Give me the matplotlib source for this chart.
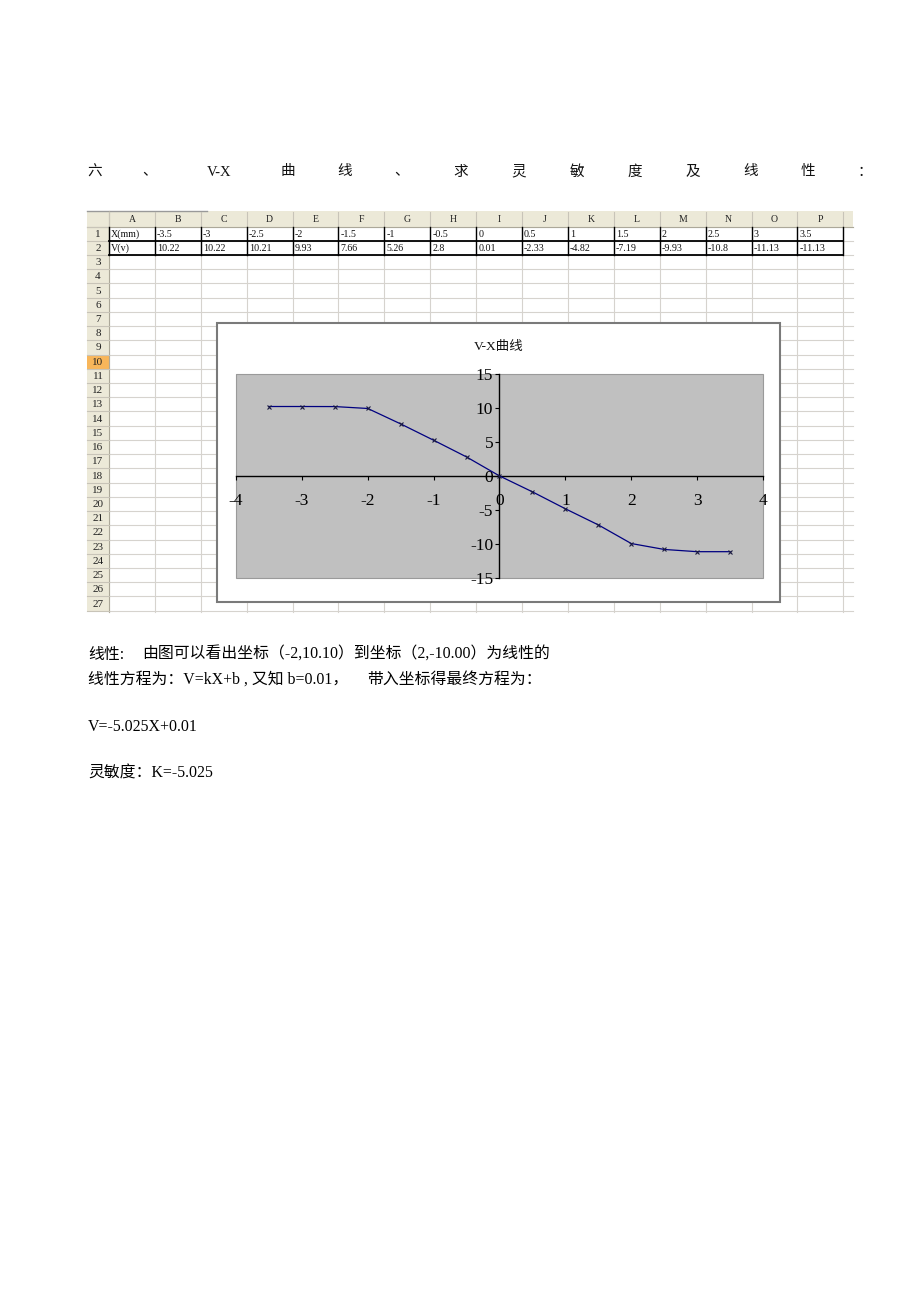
import matplotlib
matplotlib.use('Agg')
import matplotlib.pyplot as plt
from matplotlib.patches import Rectangle

# ---------------- data ----------------
x_mm = [-3.5, -3, -2.5, -2, -1.5, -1, -0.5, 0, 0.5, 1, 1.5, 2, 2.5, 3, 3.5]
v_volts = [10.22, 10.22, 10.21, 9.93, 7.66, 5.26, 2.8, 0.01, -2.33, -4.82,
           -7.19, -9.93, -10.8, -11.13, -11.13]
col_letters = list("ABCDEFGHIJKLMNOP")
row_names = ["X(mm)", "V(v)"]
x_ticks = [-4, -3, -2, -1, 0, 1, 2, 3, 4]
y_ticks = [-15, -10, -5, 0, 5, 10, 15]
chart_title = "V-X曲线"
heading_parts = ["六", "、", "V-X", "曲", "线", "、", "求", "灵", "敏", "度", "及", "线", "性", "："]
body_line1 = ["线性:", "由图可以看出坐标（-2,10.10）到坐标（2,-10.00）为线性的"]
body_line2 = ["线性方程为：V=kX+b , 又知 b=0.01，", "带入坐标得最终方程为："]
body_line3 = ["V=-5.025X+0.01"]
body_line4 = ["灵敏度：K=-5.025"]

# ---------------- layout ----------------
FONTS = ['Liberation Serif', 'Noto Sans CJK SC', 'DejaVu Sans']
plt.rcParams['font.family'] = FONTS

W, H = 920, 1302
fig = plt.figure(figsize=(W / 100, H / 100), dpi=100)
fig.patch.set_facecolor('white')
page = fig.add_axes([0, 0, 1, 1])
page.set_xlim(0, W)
page.set_ylim(H, 0)
page.axis('off')
page.set_zorder(0)

# heading line
heading_x = [95, 150, 219, 288, 345, 402, 461, 519, 577, 635, 693, 751, 808, 865]
for s, xx in zip(heading_parts, heading_x):
    page.text(xx, 172, s, ha='center', va='center', fontsize=10.5, color='#111111')

# spreadsheet geometry
SX0, A0, CW = 87, 109, 45.9
HT, R0, RH = 211, 226.5, 14.23
RIGHT, BOTTOM = 853, 612
NROWS = 27
grid_c = '#D6D3CE'

for n in range(NROWS + 1):
    y = R0 + n * RH
    page.plot([A0, RIGHT], [y, y], color=grid_c, lw=0.8, zorder=1)
for c in range(len(col_letters) + 1):
    x = A0 + c * CW
    page.plot([x, x], [R0, BOTTOM], color=grid_c, lw=0.8, zorder=1)

page.add_patch(Rectangle((SX0, HT), RIGHT - SX0, R0 - HT, facecolor='#ECE9D8',
                         edgecolor='none', zorder=2))
page.add_patch(Rectangle((SX0, R0), A0 - SX0, BOTTOM - R0, facecolor='#ECE9D8',
                         edgecolor='none', zorder=2))
page.add_patch(Rectangle((SX0, R0 + 9 * RH), A0 - SX0, RH, facecolor='#F8B65A',
                         edgecolor='none', zorder=2))
page.plot([SX0, 207], [HT, HT], color='#999999', lw=1.0, zorder=3)
page.plot([SX0, RIGHT], [R0, R0], color='#ACA899', lw=0.8, zorder=3)
page.plot([A0, A0], [HT, BOTTOM], color='#ACA899', lw=0.8, zorder=3)
for c in range(len(col_letters) + 1):
    x = A0 + c * CW
    page.plot([x, x], [HT + 1, R0], color='#C8C4B8', lw=0.8, zorder=3)
for n in range(NROWS + 1):
    y = R0 + n * RH
    page.plot([SX0, A0], [y, y], color='#C8C4B8', lw=0.8, zorder=3)
for i, L in enumerate(col_letters):
    page.text(A0 + (i + 0.5) * CW, (HT + R0) / 2 + 0.5, L, ha='center', va='center',
              fontsize=7, color='#222222', zorder=4)
for n in range(NROWS):
    page.text((SX0 + A0) / 2, R0 + (n + 0.5) * RH + 0.5, str(n + 1), ha='center',
              va='center', fontsize=8, color='#222222', zorder=4)

for r, (name, vals) in enumerate(zip(row_names, [x_mm, v_volts])):
    yc = R0 + (r + 0.5) * RH + 0.5
    page.text(A0 + 2, yc, name, ha='left', va='center', fontsize=7.2, color='#111111', zorder=4)
    for i, v in enumerate(vals):
        page.text(A0 + (i + 1) * CW + 2, yc, '{:g}'.format(v), ha='left', va='center',
                  fontsize=7.2, color='#111111', zorder=4)
TW = A0 + len(col_letters) * CW
for n in range(1, 3):
    y = R0 + n * RH
    page.plot([A0, TW], [y, y], color='black', lw=1.3, zorder=4)
for c in range(len(col_letters) + 1):
    x = A0 + c * CW
    page.plot([x, x], [R0, R0 + 2 * RH], color='black', lw=1.0, zorder=4)

# chart area box
page.add_patch(Rectangle((217, 323), 563, 279, facecolor='white', edgecolor='#7A7A7A',
                         lw=1.5, zorder=5))
page.text(499, 347, chart_title, ha='center', va='center', fontsize=9.7,
          color='#111111', zorder=6)

# chart plot area
ax = fig.add_axes([236 / W, 1 - 578 / H, 527 / W, 204 / H])
ax.set_zorder(2)
ax.set_facecolor('#C0C0C0')
ax.set_xlim(-4, 4)
ax.set_ylim(-15, 15)
for s in ['top', 'right']:
    ax.spines[s].set_visible(False)
ax.spines['left'].set_position(('data', 0))
ax.spines['bottom'].set_position(('data', 0))
for s in ['left', 'bottom']:
    ax.spines[s].set_color('black')
    ax.spines[s].set_linewidth(1.0)
ax.add_patch(Rectangle((0, 0), 1, 1, transform=ax.transAxes, fill=False,
                       edgecolor='#9A9A9A', lw=0.8, clip_on=False, zorder=0))
ax.set_xticks(x_ticks)
ax.set_yticks(y_ticks)
ax.set_xticklabels([str(t) for t in x_ticks])
ax.set_yticklabels([str(t) for t in y_ticks])
ax.tick_params(axis='x', direction='out', length=3, width=0.8, pad=9,
               labelsize=12.5, colors='black')
ax.tick_params(axis='y', direction='out', length=3, width=0.8, pad=1.5,
               labelsize=12.5, colors='black')
ax.plot(x_mm, v_volts, color='#000080', lw=0.9, marker='x', markersize=3.5,
        markeredgewidth=0.8, markeredgecolor='#1a1a40', zorder=3)

# body text
FS = 11.4
line1_x = [88, 142]
line2_x = [88, 367]
for s, xx in zip(body_line1, line1_x):
    page.text(xx, 655, s, ha='left', va='center', fontsize=FS, color='black')
for s, xx in zip(body_line2, line2_x):
    page.text(xx, 680, s, ha='left', va='center', fontsize=FS, color='black')
page.text(88, 727, body_line3[0], ha='left', va='center', fontsize=FS, color='black')
page.text(88, 774, body_line4[0], ha='left', va='center', fontsize=FS, color='black')

fig.savefig('out.png', dpi=100, facecolor='white')
